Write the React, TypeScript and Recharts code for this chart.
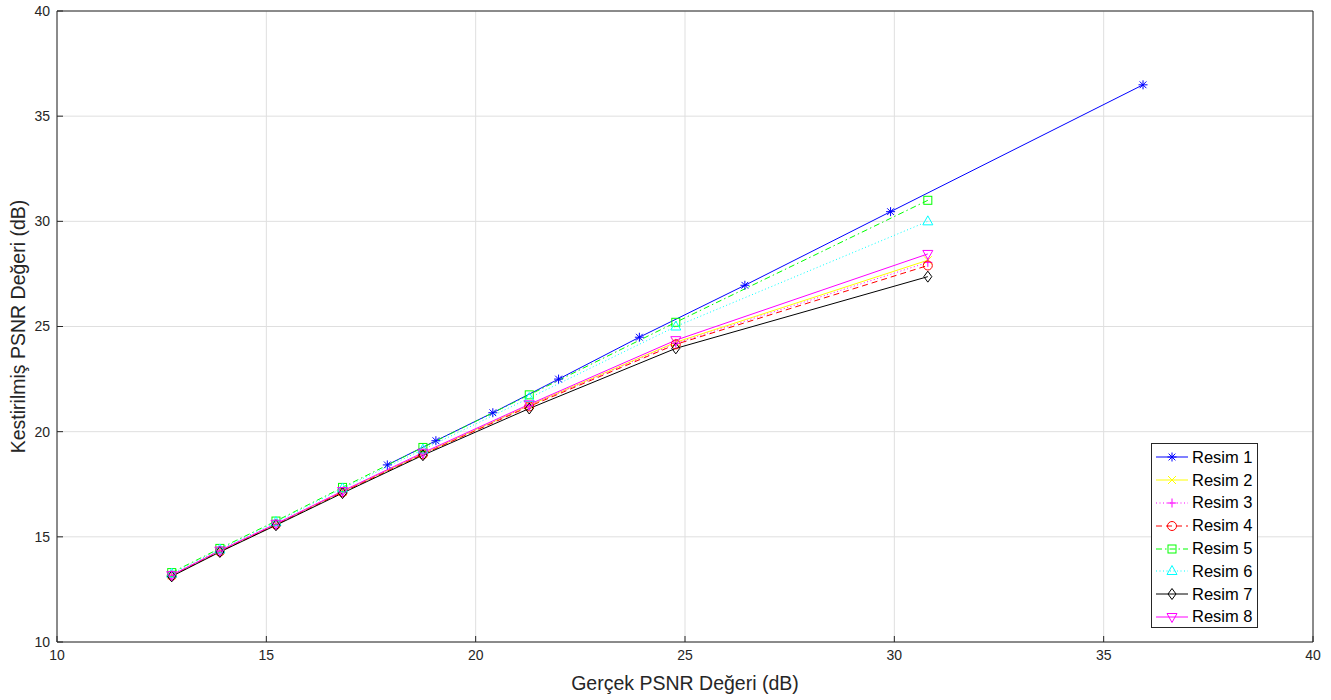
import { LineChart, Line, XAxis, YAxis, CartesianGrid, ReferenceLine } from 'recharts'

// Gerçek PSNR (x) / Kestirilmiş PSNR (y)
const xResim1 = [17.89, 19.05, 20.41, 21.98, 23.91, 26.43, 29.91, 35.94]
const yResim1 = [18.42, 19.57, 20.9, 22.5, 24.49, 26.96, 30.46, 36.49]

const xOrtak = [12.74, 13.89, 15.23, 16.82, 18.74, 21.28, 24.78, 30.8]
const yResim2 = [13.17, 14.33, 15.6, 17.15, 18.95, 21.25, 24.25, 28.15]
const yResim3 = [13.17, 14.33, 15.6, 17.15, 18.95, 21.24, 24.2, 28.05]
const yResim4 = [13.15, 14.3, 15.58, 17.12, 18.92, 21.2, 24.15, 27.9]
const yResim5 = [13.3, 14.45, 15.75, 17.35, 19.25, 21.75, 25.2, 31.0]
const yResim6 = [13.25, 14.4, 15.7, 17.3, 19.15, 21.6, 25.0, 30.0]
const yResim7 = [13.12, 14.28, 15.55, 17.08, 18.88, 21.1, 23.96, 27.37]
const yResim8 = [13.18, 14.35, 15.62, 17.18, 19.0, 21.3, 24.35, 28.45]

const axisTicks = [10, 15, 20, 25, 30, 35, 40]

const FONT = "'Liberation Sans', Arial, Helvetica, sans-serif"
const AXIS_COLOR = '#262626'

type Shape = 'asterisk' | 'x' | 'plus' | 'circle' | 'square' | 'triangle' | 'diamond' | 'triangleDown'

function Marker({ shape, color, cx, cy }: { shape: Shape; color: string; cx: number; cy: number }) {
  const s = 4.5
  const p = { stroke: color, strokeWidth: 1, fill: 'none' }
  switch (shape) {
    case 'asterisk':
      return (
        <g {...p}>
          <line x1={cx - s} y1={cy} x2={cx + s} y2={cy} />
          <line x1={cx} y1={cy - s} x2={cx} y2={cy + s} />
          <line x1={cx - s * 0.75} y1={cy - s * 0.75} x2={cx + s * 0.75} y2={cy + s * 0.75} />
          <line x1={cx - s * 0.75} y1={cy + s * 0.75} x2={cx + s * 0.75} y2={cy - s * 0.75} />
        </g>
      )
    case 'x':
      return (
        <g {...p}>
          <line x1={cx - 4} y1={cy - 4} x2={cx + 4} y2={cy + 4} />
          <line x1={cx - 4} y1={cy + 4} x2={cx + 4} y2={cy - 4} />
        </g>
      )
    case 'plus':
      return (
        <g {...p}>
          <line x1={cx - s} y1={cy} x2={cx + s} y2={cy} />
          <line x1={cx} y1={cy - s} x2={cx} y2={cy + s} />
        </g>
      )
    case 'circle':
      return <circle cx={cx} cy={cy} r={4.5} {...p} />
    case 'square':
      return <rect x={cx - 4} y={cy - 4} width={8} height={8} {...p} />
    case 'triangle':
      return <polygon points={`${cx},${cy - 5.5} ${cx - 5},${cy + 3.5} ${cx + 5},${cy + 3.5}`} {...p} />
    case 'triangleDown':
      return <polygon points={`${cx},${cy + 5.5} ${cx - 5},${cy - 3.5} ${cx + 5},${cy - 3.5}`} {...p} />
    case 'diamond':
      return <polygon points={`${cx},${cy - 5.5} ${cx + 4},${cy} ${cx},${cy + 5.5} ${cx - 4},${cy}`} {...p} />
  }
}

interface Seri {
  name: string
  color: string
  dash?: string
  shape: Shape
  xs: number[]
  ys: number[]
}

const seriler: Seri[] = [
  { name: 'Resim 1', color: '#0000ff', shape: 'asterisk', xs: xResim1, ys: yResim1 },
  { name: 'Resim 2', color: '#ffff00', shape: 'x', xs: xOrtak, ys: yResim2 },
  { name: 'Resim 3', color: '#ff00ff', dash: '1 2.5', shape: 'plus', xs: xOrtak, ys: yResim3 },
  { name: 'Resim 4', color: '#ff0000', dash: '6 4', shape: 'circle', xs: xOrtak, ys: yResim4 },
  { name: 'Resim 5', color: '#00ff00', dash: '6 3 1.5 3', shape: 'square', xs: xOrtak, ys: yResim5 },
  { name: 'Resim 6', color: '#00ffff', dash: '1 2.5', shape: 'triangle', xs: xOrtak, ys: yResim6 },
  { name: 'Resim 7', color: '#000000', shape: 'diamond', xs: xOrtak, ys: yResim7 },
  { name: 'Resim 8', color: '#ff00ff', shape: 'triangleDown', xs: xOrtak, ys: yResim8 },
]

function LegendBox() {
  return (
    <div
      style={{
        position: 'absolute',
        left: 1151,
        top: 443,
        width: 107,
        height: 185,
        border: '1px solid #262626',
        background: '#fff',
        fontFamily: FONT,
        fontSize: 16.5,
        color: '#000',
        paddingTop: 2,
        boxSizing: 'border-box',
      }}
    >
      {seriler.map((s) => (
        <div key={s.name} style={{ display: 'flex', alignItems: 'center', height: 22.8 }}>
          <svg width={40} height={14} style={{ flex: 'none' }}>
            <line x1={4} y1={7} x2={36} y2={7} stroke={s.color} strokeDasharray={s.dash} />
            <Marker shape={s.shape} color={s.color} cx={20} cy={7} />
          </svg>
          <span style={{ whiteSpace: 'nowrap' }}>{s.name}</span>
        </div>
      ))}
    </div>
  )
}

export default function App() {
  return (
    <div style={{ position: 'relative', width: 1331, height: 700 }}>
      <style>{'body{margin:0}'}</style>
      <LineChart width={1331} height={700} margin={{ top: 11, right: 18, left: 0, bottom: 0 }}>
        <CartesianGrid stroke="#dfdfdf" strokeWidth={1} horizontalValues={axisTicks} verticalValues={axisTicks} />
        <XAxis
          type="number"
          dataKey="x"
          domain={[10, 40]}
          ticks={axisTicks}
          allowDuplicatedCategory={false}
          height={58}
          stroke={AXIS_COLOR}
          tickSize={-6}
          tickMargin={14}
          tick={{ fill: AXIS_COLOR, fontSize: 14, fontFamily: FONT }}
          label={{
            content: ({ viewBox }: any) => (
              <text
                x={viewBox.x + viewBox.width / 2}
                y={viewBox.y + 48}
                textAnchor="middle"
                fill={AXIS_COLOR}
                fontSize={19.5}
                fontFamily={FONT}
              >
                Gerçek PSNR Değeri (dB)
              </text>
            ),
          }}
        />
        <YAxis
          type="number"
          dataKey="y"
          domain={[10, 40]}
          ticks={axisTicks}
          width={57}
          stroke={AXIS_COLOR}
          tickSize={-6}
          tickMargin={13}
          tick={{ fill: AXIS_COLOR, fontSize: 14, fontFamily: FONT }}
          label={{
            content: ({ viewBox }: any) => {
              const cx = viewBox.x + 25
              const cy = viewBox.y + viewBox.height / 2
              return (
                <text
                  x={cx}
                  y={cy}
                  transform={`rotate(-90 ${cx} ${cy})`}
                  textAnchor="middle"
                  fill={AXIS_COLOR}
                  fontSize={19.5}
                  fontFamily={FONT}
                >
                  Kestirilmiş PSNR Değeri (dB)
                </text>
              )
            },
          }}
        />
        <ReferenceLine y={40} stroke={AXIS_COLOR} />
        <ReferenceLine x={40} stroke={AXIS_COLOR} />
        {seriler.map((s) => (
          <Line
            key={s.name}
            name={s.name}
            data={s.xs.map((x, i) => ({ x, y: s.ys[i] }))}
            dataKey="y"
            type="linear"
            stroke={s.color}
            strokeWidth={1}
            strokeDasharray={s.dash}
            isAnimationActive={false}
            dot={(props: any) => (
              <g key={`${s.name}-${props.index}`}>
                <Marker shape={s.shape} color={s.color} cx={props.cx} cy={props.cy} />
              </g>
            )}
            activeDot={false}
          />
        ))}
      </LineChart>
      <LegendBox />
    </div>
  )
}
